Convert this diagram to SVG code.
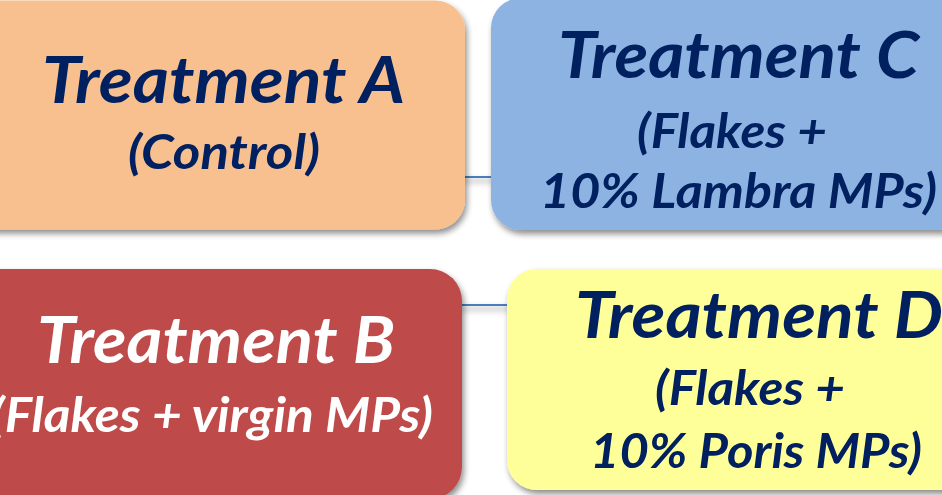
<svg xmlns="http://www.w3.org/2000/svg" width="942" height="495" viewBox="0 0 942 495">
  <defs>
    <filter id="sh" x="-10%" y="-10%" width="130%" height="130%">
      <feGaussianBlur in="SourceAlpha" stdDeviation="3"/>
      <feOffset dx="2" dy="4" result="b"/>
      <feComponentTransfer><feFuncA type="linear" slope="0.45"/></feComponentTransfer>
      <feMerge><feMergeNode/><feMergeNode in="SourceGraphic"/></feMerge>
    </filter>
    <style>
      .t { font-family: Lato, "Liberation Sans", sans-serif; font-weight: bold; font-style: italic; }
      .h { font-size: 65px; }
      .s { font-size: 48px; }
      .navy { fill: #002060; }
      .white { fill: #ffffff; }
      .conn { stroke: #4A7EBB; stroke-width: 2; fill: none; }
    </style>
  </defs>
  <rect width="942" height="495" fill="#ffffff"/>
  <g id="connectors" filter="url(#sh)">
    <line class="conn" x1="460" y1="177" x2="496" y2="177"/>
    <line class="conn" x1="458" y1="305" x2="512" y2="305"/>
  </g>
  <g id="nodeA">
    <rect x="-40" y="0.5" width="505" height="229" rx="30" fill="#F9C08F" filter="url(#sh)"/>
    <text class="t h navy" x="42" y="103" textLength="363" lengthAdjust="spacingAndGlyphs">Treatment A</text>
    <text class="t s navy" x="128" y="169" textLength="192" lengthAdjust="spacingAndGlyphs">(Control)</text>
  </g>
  <g id="nodeC">
    <rect x="491" y="-2" width="500" height="232" rx="30" fill="#8DB3E2" filter="url(#sh)"/>
    <text class="t h navy" x="558" y="78" textLength="361" lengthAdjust="spacingAndGlyphs">Treatment C</text>
    <text class="t s navy" x="637" y="148" textLength="190" lengthAdjust="spacingAndGlyphs">(Flakes +</text>
    <text class="t s navy" x="540" y="208" textLength="397" lengthAdjust="spacingAndGlyphs">10% Lambra MPs)</text>
  </g>
  <g id="nodeB">
    <rect x="-40" y="269" width="502" height="230" rx="32" fill="#BE4B48" filter="url(#sh)"/>
    <text class="t h white" x="37" y="363" textLength="358" lengthAdjust="spacingAndGlyphs">Treatment B</text>
    <text class="t s white" x="-9" y="432" textLength="442" lengthAdjust="spacingAndGlyphs">(Flakes + virgin MPs)</text>
  </g>
  <g id="nodeD">
    <rect x="507" y="269" width="480" height="221" rx="30" fill="#FFFF99" filter="url(#sh)"/>
    <text class="t h navy" x="575" y="338" textLength="368" lengthAdjust="spacingAndGlyphs">Treatment D</text>
    <text class="t s navy" x="655" y="405" textLength="190" lengthAdjust="spacingAndGlyphs">(Flakes +</text>
    <text class="t s navy" x="590" y="468" textLength="332" lengthAdjust="spacingAndGlyphs">10% Poris MPs)</text>
  </g>
</svg>
